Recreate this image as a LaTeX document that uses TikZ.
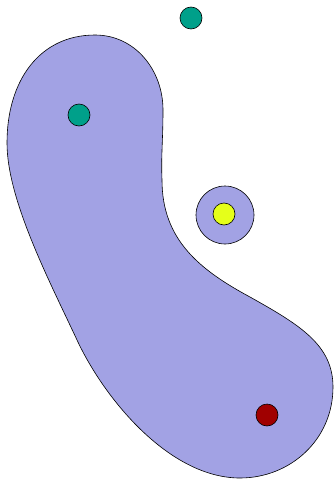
\documentclass[tikz,border=0pt]{standalone}
\begin{document}
\begin{tikzpicture}[x=1pt,y=-1pt,
  dot/.style={circle,draw=black,line width=0.6pt,minimum size=22pt,inner sep=0pt},
  region/.style={draw=black,line width=0.6pt,fill=blobc}]
\definecolor{blobc}{RGB}{162,162,228}
\definecolor{tealc}{RGB}{0,160,138}
\definecolor{yelc}{RGB}{229,255,26}
\definecolor{redc}{RGB}{160,0,0}
\useasboundingbox (0,0) rectangle (335,479);
\path[region] (7,143) .. controls (7,80) and (40,35) .. (95,35)
  .. controls (135,35) and (163,70) .. (163,110)
  .. controls (163,140) and (161,155) .. (162,180)
  .. controls (162,240) and (200,270) .. (250,297)
  .. controls (300,325) and (333,345) .. (333,387)
  .. controls (333,440) and (290,478) .. (240,478)
  .. controls (170,478) and (105,400) .. (77,340)
  .. controls (50,282) and (7,200) .. (7,143) -- cycle;
\node[region,circle,minimum size=58pt,inner sep=0pt] (halo) at (225,215) {};
\node[dot,fill=tealc] (t1) at (191,18) {};
\node[dot,fill=tealc] (t2) at (79,115) {};
\node[dot,fill=yelc] (y1) at (224,214) {};
\node[dot,fill=redc] (r1) at (267,415) {};
\end{tikzpicture}
\end{document}
